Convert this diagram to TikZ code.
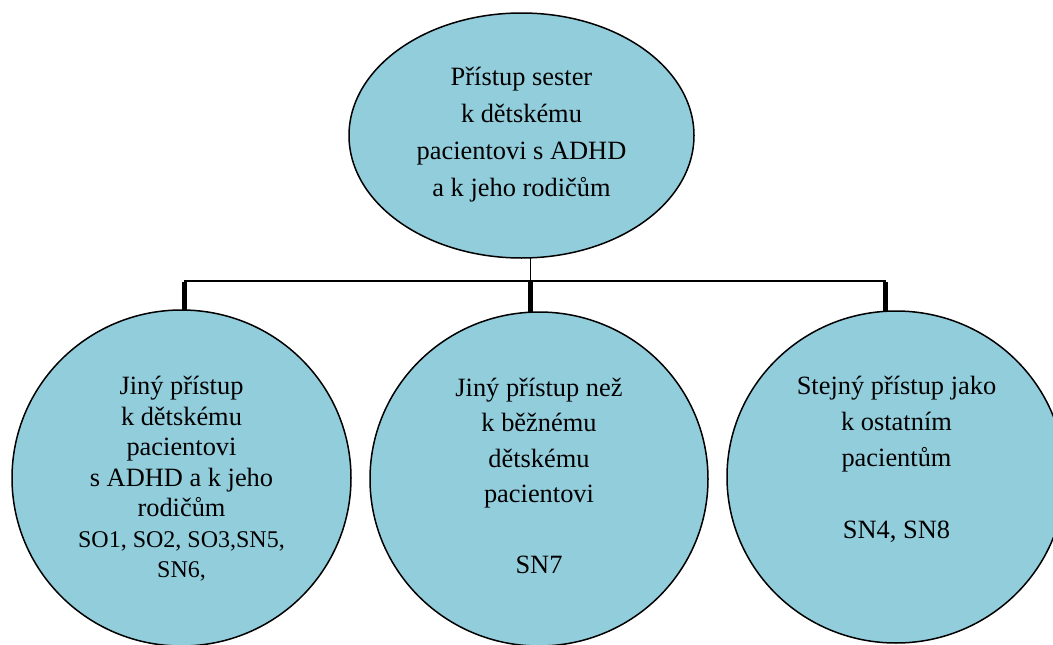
\documentclass[tikz,border=0pt]{standalone}
\usepackage{fontspec}
\setmainfont{Liberation Serif}
\usetikzlibrary{shapes.geometric}

\definecolor{bubblefill}{RGB}{146,205,220}

\tikzset{
  bubble/.style={ellipse, draw=black, line width=1.5pt, fill=bubblefill,
    inner sep=0pt, outer sep=0pt},
  txt/.style={align=center, inner sep=0pt, font=\fontsize{26.4}{#1}\selectfont},
  bar/.style={line width=2pt},
  stem/.style={line width=1.2pt},
  drop/.style={line width=5pt}
}
\newcommand{\codesize}{\fontsize{24}{30.5}\selectfont}

\begin{document}
\begin{tikzpicture}[x=1pt, y=-1pt]
  \useasboundingbox (0,0) rectangle (1053,645);
  \clip (0,0) rectangle (1053,645);

  % root ellipse
  \node[bubble, minimum width=345, minimum height=245] (root) at (521.5,135.5) {};
  \node[txt=37] (rootText) at (521.5,135) {Přístup sester\\k dětskému\\pacientovi s ADHD\\a k jeho rodičům};

  % three child circles
  \node[bubble, minimum width=339, minimum height=336] (left) at (181.5,478) {};
  \node[txt=30.5] (leftText) at (181.5,479) {Jiný přístup\\k dětskému\\pacientovi\\s ADHD a k jeho\\rodičům\\{\codesize SO1, SO2, SO3,SN5,}\\{\codesize SN6,}};

  \node[bubble, minimum width=338, minimum height=334] (mid) at (539,479) {};
  \node[txt=35.5] (midText) at (539,476) {Jiný přístup než\\k běžnému\\dětskému\\pacientovi\\[35.5pt]SN7};

  \node[bubble, minimum width=338, minimum height=332] (right) at (896,477) {};
  \node[txt=36] (rightText) at (896.5,459) {Stejný přístup jako\\k ostatním\\pacientům\\[36pt]SN4, SN8};

  % branching connectors
  \coordinate (hub) at (530.5,281);
  \coordinate (jl) at (184,281);
  \coordinate (jm) at (530.5,281);
  \coordinate (jr) at (885.5,281);

  \draw[stem] (hub |- root.south) -- (hub);
  \draw[bar] (jl) -- (jr);
  \draw[drop] ([yshift=-1pt]jl) -- (jl |- left.north);
  \draw[drop] ([yshift=-1pt]jm) -- (jm |- mid.north);
  \draw[drop] ([yshift=-1pt]jr) -- (jr |- right.north);
\end{tikzpicture}
\end{document}
